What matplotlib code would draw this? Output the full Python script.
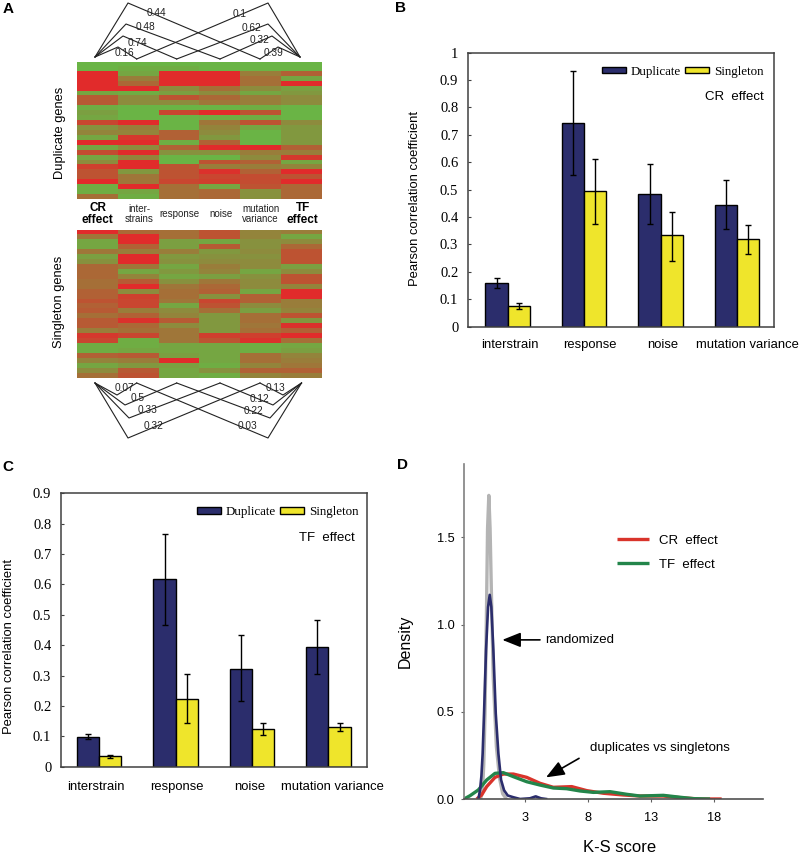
import numpy as np
import matplotlib
matplotlib.use('Agg')
import matplotlib.pyplot as plt
from matplotlib.colors import LinearSegmentedColormap

# panel A heatmap values, 0 = green, 1 = red, one list per column
dup_cr = [0, 0, 1, 1, 1, 1, .1, .65, .65, .05, .15, .1, .8, .25, .35, .1, 1, .1, .75, .1, .3, .85, .7, .7, 1, .05, .05, .5]
dup_inter = [0, .05, .1, .4, .55, 1, .05, .3, .3, 0, 0, 0, 1, .4, .35, .9, 1, .3, 1, .35, 1, 1, .2, .45, .45, 1, .1, .05]
dup_resp = [0, .05, 1, 1, 1, .3, .15, .7, .3, 0, .8, 0, 0, 0, .6, .6, .05, .6, .25, 0, 0, .7, .7, .7, .8, .5, .5, .5]
dup_noise = [0, 0, 1, 1, 1, .5, .3, .55, .45, 0, 1, .05, .45, .35, .3, .2, .6, 1, .25, 0, .7, .4, .95, .8, .85, .1, .55, .55]
dup_mut = [0, 0, .4, .5, .5, .3, .1, .4, .4, .05, .7, .05, .7, .1, 0, 0, 0, 1, .4, .3, .6, .4, .6, .75, .75, .7, .25, .25]
dup_tf = [0, 0, .6, .1, 1, .15, .2, .3, .3, 0, 0, 0, .3, .2, .2, .2, .2, .6, .4, .9, .1, .35, 1, .7, 1, .55, .55, .55]

sing_cr = [1, .45, .1, .1, .45, .15, .25, .55, .55, .55, .5, .5, .6, .6, .7, .6, .65, .5, .65, .65, .4, .9, .8, .05, .05, .6, .35, .1, .3, .5]
sing_inter = [.55, 1, 1, .6, .4, 1, 1, .45, .1, .35, .65, 1, .3, .85, .8, .8, .4, .6, .95, .55, .5, .8, .05, .05, .1, .65, .4, .2, .65, .7]
sing_resp = [.5, .5, .15, .15, .4, .2, .25, .1, .2, .1, .25, .45, .5, .5, .45, .1, .3, .35, .65, .3, .45, .45, .45, .1, .1, .15, 1, .15, .1, .1]
sing_noise = [.7, .7, .1, .65, .2, .25, .3, .4, .35, .15, .45, .55, .6, .25, .8, .7, .5, .2, .2, .2, .2, .85, .7, .1, .1, .1, .1, .05, .25, .05]
sing_mut = [.35, .35, .25, .25, .3, .25, .3, .3, .1, .25, .3, .3, .1, .6, .6, .3, .15, .5, .5, .45, .5, .85, .95, .05, .05, .5, .5, .35, .6, .35]
sing_tf = [.4, .1, .3, .55, .7, .7, .7, .15, .3, .7, .7, .35, 1, 1, .4, .4, .35, .7, .2, .95, .6, 1, .5, .1, .15, .35, .4, .45, .6, .4]

col_names = ['inter-\nstrains', 'response', 'noise', 'mutation\nvariance']
top_left_r = ['0.16', '0.74', '0.48', '0.44']
top_right_r = ['0.39', '0.32', '0.62', '0.1']
bot_left_r = ['0.07', '0.5', '0.33', '0.32']
bot_right_r = ['0.13', '0.12', '0.22', '0.03']

# panels B and C
categories = ['interstrain', 'response', 'noise', 'mutation variance']
b_dup = [.158, .743, .484, .443]
b_dup_low = [.14, .553, .375, .355]
b_dup_high = [.178, .933, .595, .535]
b_sing = [.075, .494, .333, .32]
b_sing_low = [.063, .375, .24, .267]
b_sing_high = [.088, .613, .42, .37]

c_dup = [.098, .618, .322, .395]
c_dup_low = [.091, .465, .215, .305]
c_dup_high = [.108, .767, .435, .484]
c_sing = [.036, .224, .125, .13]
c_sing_low = [.028, .144, .103, .117]
c_sing_high = [.04, .306, .144, .143]

# panel D density curves
rand_grey_x = [-.55, -.4, -.3, -.2, -.1, 0, .1, .2, .3, .45, .7, .95, 1.2, 1.5]
rand_grey_y = [0, .05, .2, .5, 1.0, 1.55, 1.74, 1.55, 1.2, .7, .3, .12, .03, 0]
rand_navy_x = [-.73, -.6, -.49, -.39, -.28, -.12, .04, .17, .3, .46, .65, .86, 1.07, 1.31, 1.6, 2.05, 2.58, 3.37, 3.82, 4.24, 4.64]
rand_navy_y = [0, .05, .13, .26, .49, .855, 1.1, 1.17, 1.1, .855, .49, .26, .11, .05, .02, .01, 0, .004, .015, .004, 0]
cr_x = [-.86, -.47, -.07, .59, 1.25, 2.05, 3.11, 4.16, 5.22, 6.68, 7.87, 9.19, 10.78, 12.1, 13.95, 15.54, 16.86, 18.58]
cr_y = [0, .023, .071, .124, .143, .143, .124, .09, .067, .071, .048, .033, .023, .017, .017, .006, 0, 0]
tf_x = [-1.87, -1.39, -.73, -.07, .59, 1.25, 2.05, 3.11, 4.16, 5.22, 6.28, 7.34, 8.4, 9.72, 11.04, 12.1, 13.95, 15.28, 16.33, 17.66]
tf_y = [0, .019, .052, .109, .147, .151, .128, .099, .08, .063, .059, .046, .038, .042, .027, .017, .021, .01, .002, 0]

W, H = 800, 857
SANS = 'Liberation Sans'
SERIF = 'Liberation Serif'
NAVY = '#2B2D6C'
YELLOW = '#EFE52B'
plt.rcParams['font.family'] = SANS

fig = plt.figure(figsize=(W / 100, H / 100), dpi=100)


def px_axes(x0, y0, x1, y1):
    return fig.add_axes([x0 / W, 1 - y1 / H, (x1 - x0) / W, (y1 - y0) / H])


# Panel A
cmap = LinearSegmentedColormap.from_list('gr', ['#6AB445', '#E12B2B'])
dup_rows = np.array([dup_cr, dup_inter, dup_resp, dup_noise, dup_mut, dup_tf]).T
sing_rows = np.array([sing_cr, sing_inter, sing_resp, sing_noise, sing_mut, sing_tf]).T
for box, rows in [((77.3, 61.7, 322, 199), dup_rows), ((77.3, 230, 322, 378.3), sing_rows)]:
    ax = px_axes(*box)
    ax.imshow(rows, cmap=cmap, vmin=0, vmax=1, aspect='auto', interpolation='nearest')
    ax.axis('off')


def bar_panel(box, xlim, ymax, yticks, dup, dlow, dhigh, sing, slow, shigh):
    ax = px_axes(*box)
    x = np.arange(len(categories))
    bw = 0.29
    err = dict(ecolor='black', elinewidth=1, capsize=2.4, capthick=1)
    ax.bar(x - bw / 2, dup, bw, color=NAVY, edgecolor='black', linewidth=1, label='Duplicate',
           yerr=[np.array(dup) - dlow, np.array(dhigh) - dup], error_kw=err)
    ax.bar(x + bw / 2, sing, bw, color=YELLOW, edgecolor='black', linewidth=1, label='Singleton',
           yerr=[np.array(sing) - slow, np.array(shigh) - sing], error_kw=err)
    ax.set_xlim(*xlim)
    ax.set_ylim(0, ymax)
    ax.set_xticks([])
    ax.set_yticks(yticks)
    ax.set_yticklabels([f'{t:g}' for t in yticks], family=SERIF, fontsize=10.5)
    ax.tick_params(axis='y', direction='in', length=2, pad=7, color='#404040')
    for s in ax.spines.values():
        s.set_color('#404040')
        s.set_linewidth(1.1)
    return ax


# Panel B
ax_b = bar_panel((468, 52.7, 774, 326.7), (-.518, 3.482), 1, [0, .1, .2, .3, .4, .5, .6, .7, .8, .9, 1],
                 b_dup, b_dup_low, b_dup_high, b_sing, b_sing_low, b_sing_high)
ax_b.legend(loc='upper right', bbox_to_anchor=(.965, .953), ncol=2, frameon=False, borderpad=0, borderaxespad=0,
            handlelength=1.85, handleheight=.35, handletextpad=.36, columnspacing=.28,
            prop={'family': SERIF, 'size': 9.4})
ax_b.text(.965, .838, 'CR  effect', transform=ax_b.transAxes, ha='right', va='center', fontsize=9.5)

# Panel C
ax_c = bar_panel((61, 493.3, 366.7, 766.7), (-.5, 3.5), .9, [0, .1, .2, .3, .4, .5, .6, .7, .8, .9],
                 c_dup, c_dup_low, c_dup_high, c_sing, c_sing_low, c_sing_high)
ax_c.legend(loc='upper right', bbox_to_anchor=(.9725, .953), ncol=2, frameon=False, borderpad=0, borderaxespad=0,
            handlelength=1.85, handleheight=.35, handletextpad=.36, columnspacing=.28,
            prop={'family': SERIF, 'size': 9.4})
ax_c.text(.96, .838, 'TF  effect', transform=ax_c.transAxes, ha='right', va='center', fontsize=9.5)

# Panel D
ax_d = px_axes(464, 464, 763, 799)
ax_d.plot(rand_grey_x, rand_grey_y, color='#B4B4B4', lw=2.4)
ax_d.plot(cr_x, cr_y, color='#D9342B', lw=2.4, label='CR  effect', solid_capstyle='butt')
ax_d.plot(tf_x, tf_y, color='#23854A', lw=2.4, label='TF  effect', solid_capstyle='butt')
ax_d.plot(rand_navy_x, rand_navy_y, color=NAVY, lw=1.9)
ax_d.set_xlim(-1.87, 21.86)
ax_d.set_ylim(0, 1.92)
ax_d.set_xticks([3, 8, 13, 18])
ax_d.set_yticks([0, .5, 1, 1.5])
ax_d.set_yticklabels(['0.0', '0.5', '1.0', '1.5'])
ax_d.tick_params(labelsize=9.2, length=2.4, width=.8, color='#606060')
ax_d.tick_params(axis='x', pad=7)
ax_d.tick_params(axis='y', pad=4.5)
ax_d.spines['top'].set_visible(False)
ax_d.spines['right'].set_visible(False)
ax_d.spines['left'].set_color('#808080')
ax_d.spines['left'].set_linewidth(1.2)
ax_d.spines['bottom'].set_color('#505050')
ax_d.spines['bottom'].set_linewidth(1.2)
ax_d.legend(loc='upper left', bbox_to_anchor=(.513, .79), frameon=False, borderpad=0, borderaxespad=0,
            handlelength=2.4, handletextpad=.75, labelspacing=.9, fontsize=9.5)
HEAD = dict(arrowstyle='-|>,head_length=0.8,head_width=0.32', color='black', lw=1.2, shrinkA=0, shrinkB=0,
            mutation_scale=14)
ax_d.annotate('', xy=(1.17, .912), xytext=(4.16, .912), arrowprops=HEAD)
ax_d.text(4.6, .912, 'randomized', va='center', fontsize=9.5)
ax_d.annotate('', xy=(4.64, .124), xytext=(7.26, .233), arrowprops=HEAD)
ax_d.text(8.1, .29, 'duplicates vs singletons', va='center', fontsize=9.5)

# overlay in image pixels for the schematic parts and loose labels
ov = fig.add_axes([0, 0, 1, 1], zorder=10)
ov.set_xlim(0, W)
ov.set_ylim(H, 0)
ov.axis('off')
ov.patch.set_alpha(0)

# connector lines of panel A: apex, peak, column foot, for each correlation
col_foot_x = [136.7, 176.7, 220, 260]
top_left_peak = [(118, 47), (123, 36), (126, 24), (128, 3)]
top_right_peak = [(278, 47), (272, 36), (268, 24), (268, 3)]
bot_left_peak = [(117, 395), (125, 405), (129, 418), (128, 438)]
bot_right_peak = [(283, 395), (273, 405), (270, 418), (268, 438)]
LINE = dict(color='#222222', lw=.8)
for i, foot in enumerate(col_foot_x):
    ov.plot([95, top_left_peak[i][0], foot], [57, top_left_peak[i][1], 59], **LINE)
    ov.plot([300, top_right_peak[i][0], col_foot_x[3 - i]], [57, top_right_peak[i][1], 59], **LINE)
    ov.plot([95, bot_left_peak[i][0], foot], [383, bot_left_peak[i][1], 383], **LINE)
    ov.plot([301.5, bot_right_peak[i][0], col_foot_x[3 - i]], [383, bot_right_peak[i][1], 383], **LINE)

R_TXT = dict(fontsize=7.3, ha='center', va='center', color='#222222')
for lab, (x, y) in zip(top_left_r, [(124, 53), (137, 42.5), (146, 27), (156, 13)]):
    ov.text(x, y, lab, **R_TXT)
for lab, (x, y) in zip(top_right_r, [(273, 53), (259, 40), (251, 28), (240, 14)]):
    ov.text(x, y, lab, **R_TXT)
for lab, (x, y) in zip(bot_left_r, [(124, 388), (138, 398), (148, 410), (154, 426)]):
    ov.text(x, y, lab, **R_TXT)
for lab, (x, y) in zip(bot_right_r, [(275, 388), (259, 399), (253, 411), (247, 426)]):
    ov.text(x, y, lab, **R_TXT)

for x, lab in zip([97.7, 302.7], ['CR\neffect', 'TF\neffect']):
    ov.text(x, 214, lab, fontsize=8.5, fontweight='bold', ha='center', va='center', linespacing=.95)
for x, lab in zip([139, 179.7, 221, 260.7], col_names):
    ov.text(x, 214, lab, fontsize=7, ha='center', va='center', linespacing=.95, color='#222222')

ov.text(60.5, 132.5, 'Duplicate genes', rotation=90, fontsize=9.3, ha='center', va='center')
ov.text(59, 302, 'Singleton genes', rotation=90, fontsize=9.3, ha='center', va='center')
ov.text(415, 198, 'Pearson correlation coefficient', rotation=90, fontsize=9.4, ha='center', va='center')
ov.text(9.5, 646, 'Pearson correlation coefficient', rotation=90, fontsize=9.4, ha='center', va='center')
ov.text(405, 641.5, 'Density', rotation=90, fontsize=11.5, ha='center', va='center')
ov.text(620, 848, 'K-S score', fontsize=12, ha='center', va='center')

for x, lab in zip([510, 590, 663, 747], categories):
    ov.text(x, 345, lab, fontsize=9.4, ha='center', va='center')
for x, lab in zip([96, 177.3, 249.7, 332.7], categories):
    ov.text(x, 786.7, lab, fontsize=9.4, ha='center', va='center')

for x, y, lab in [(8, 9, 'A'), (401, 8, 'B'), (8, 467, 'C'), (403, 465, 'D')]:
    ov.text(x, y, lab, fontsize=11, fontweight='bold', ha='center', va='center')

fig.savefig('out.png', dpi=100)
